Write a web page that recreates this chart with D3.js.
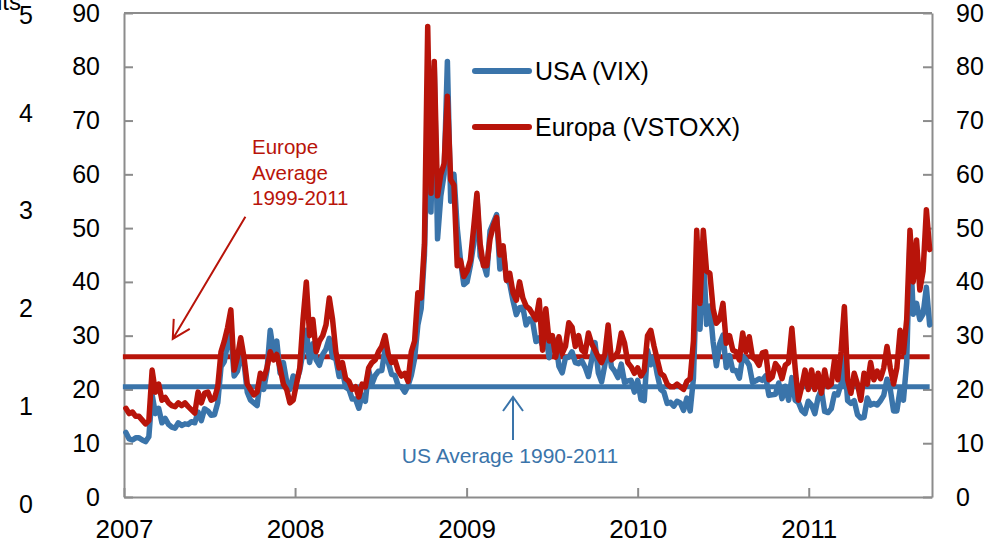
<!DOCTYPE html>
<html>
<meta charset="utf-8">
<style>
body{
	margin:0;
	background:#fff;
}
svg text{
	font-family:"Liberation Sans", Arial, sans-serif;
	fill:#000;
}
.axis path, .axis line{
	stroke:#8c8c8c;
	stroke-width:2;
}
.axis text{
	font-size:25px;
}
.series{
	fill:none;
	stroke-width:5.5;
	stroke-linejoin:round;
	stroke-linecap:round;
}
</style>
<body>
<svg width="996" height="543"></svg>
<script src="https://cdn.jsdelivr.net/npm/d3@7"></script>
<script>

// weekly closes (Fridays), first week ending 5 Jan 2007
var firstWeek = new Date(2007, 0, 5);

var vix = [
  // 2007
  12.0, 10.8, 10.6, 11.0, 11.0, 10.6, 10.3, 11.2, 19.0, 15.5, 16.5, 13.8, 14.6,
  13.5, 13.0, 12.8, 13.8, 13.3, 13.6, 13.5, 14.0, 13.8, 15.8, 14.2, 16.4, 16.0,
  15.2, 15.3, 17.5, 24.2, 25.2, 28.5, 30.5, 22.5, 23.4, 26.0, 25.0, 19.5, 18.0,
  17.5, 17.0, 22.0, 20.0, 23.5, 31.0, 27.0, 29.0, 23.0, 25.0, 21.5, 20.0, 22.5,
  // 2008
  21.5, 23.5, 27.0, 31.0, 25.0, 28.5, 25.5, 24.5, 26.5, 27.5, 29.5, 26.0, 25.7,
  22.4, 23.5, 20.4, 20.0, 18.2, 18.2, 16.5, 19.0, 17.8, 23.6, 21.0, 22.6, 23.4,
  23.5, 27.5, 25.0, 22.8, 22.6, 20.7, 20.5, 19.5, 20.7, 22.6, 25.7, 32.0, 35.0,
  45.0, 70.0, 53.0, 80.0, 48.0, 56.0, 60.0, 81.0, 55.0, 60.0, 50.0, 44.0, 39.5,
  // 2009
  40.0, 43.0, 47.0, 56.0, 44.8, 43.4, 41.3, 49.5, 51.0, 52.5, 42.4, 45.9, 40.4,
  39.7, 36.5, 33.9, 35.2, 35.3, 32.0, 33.1, 32.6, 28.9, 29.6, 28.2, 30.0, 25.9,
  29.5, 29.0, 24.3, 23.1, 25.9, 26.0, 27.0, 25.0, 24.8, 25.3, 24.1, 22.4, 25.6,
  28.7, 23.1, 21.4, 24.6, 28.5, 24.2, 23.4, 22.2, 24.7, 21.3, 21.6, 21.7, 19.5,
  // 2010
  21.7, 18.1, 17.9, 27.3, 24.6, 26.1, 22.7, 20.0, 19.5, 17.4, 17.6, 16.9, 17.8,
  17.5, 16.1, 18.4, 16.0, 22.1, 41.0, 31.2, 45.8, 32.1, 35.5, 28.8, 24.4, 28.5,
  30.1, 24.1, 26.3, 23.5, 23.5, 22.1, 26.2, 25.5, 24.5, 21.3, 21.6, 22.0, 21.7,
  22.5, 18.9, 19.0, 19.1, 21.2, 18.3, 20.6, 18.0, 22.2, 18.0, 17.6, 16.1, 15.5, 17.8,
  // 2011
  17.1, 15.5, 18.5, 20.0, 15.9, 15.7, 16.4, 19.2, 19.0, 21.0, 26.0, 17.9,
  17.4, 17.9, 15.3, 14.7, 14.8, 18.4, 17.1, 17.4, 17.1, 17.9, 18.9, 21.9, 20.0,
  16.0, 16.0, 20.0, 18.0, 25.0, 48.0, 34.0, 36.0, 33.0, 34.0, 39.0, 32.0
];

var vstoxx = [
  // 2007
  16.5, 15.5, 15.8, 15.0, 15.0, 14.3, 13.6, 14.2, 23.6, 19.5, 21.0, 18.0, 18.5,
  17.5, 17.0, 16.8, 17.5, 17.0, 17.5, 16.8, 16.2, 15.6, 19.5, 17.5, 19.3, 19.5,
  18.0, 18.3, 20.5, 27.0, 29.0, 31.5, 34.8, 23.6, 26.0, 29.6, 26.0, 21.0, 20.0,
  19.0, 19.5, 23.0, 22.0, 24.0, 27.0, 25.5, 26.5, 24.0, 21.0, 20.0, 17.5, 18.0,
  // 2008
  21.0, 24.0, 33.0, 40.0, 30.0, 33.0, 27.0, 29.0, 30.0, 32.0, 37.0, 33.0, 27.0,
  24.0, 25.0, 22.0, 21.5, 20.0, 20.5, 18.6, 21.0, 20.5, 24.0, 25.0, 25.5, 27.0,
  28.0, 30.0, 26.5, 25.0, 25.5, 23.5, 22.5, 23.0, 21.5, 27.0, 29.0, 38.0, 37.0,
  47.0, 87.5, 56.5, 81.0, 56.0, 60.0, 62.0, 74.5, 59.0, 58.0, 43.0, 44.0, 41.0,
  // 2009
  42.0, 44.0, 50.0, 56.5, 47.0, 43.0, 43.0, 48.0, 50.4, 52.0, 45.0, 46.7, 40.3,
  41.6, 38.0, 36.6, 40.0, 37.0, 35.5, 35.0, 34.0, 33.0, 36.6, 27.3, 35.0, 29.0,
  30.0, 26.0, 29.8, 26.7, 28.0, 32.4, 31.6, 28.0, 30.0, 27.3, 26.8, 30.5, 28.5,
  27.3, 26.0, 25.0, 26.5, 32.0, 25.5, 26.0, 27.0, 30.5, 28.6, 25.0, 24.2, 23.0,
  // 2010
  24.0, 22.5, 23.5, 30.0, 31.0, 28.0, 25.5, 23.0, 22.5, 21.0, 20.5, 20.5, 21.0,
  20.5, 20.0, 21.5, 22.0, 29.0, 49.6, 36.0, 49.6, 42.0, 41.6, 35.0, 32.3, 33.0,
  36.0, 28.6, 30.0, 27.3, 27.0, 25.5, 30.5, 27.0, 29.8, 26.0, 25.5, 24.5, 26.8,
  27.0, 21.8, 22.3, 24.8, 24.0, 22.0, 24.5, 25.0, 31.4, 24.0, 18.0, 20.5, 23.6, 20.0,
  // 2011
  23.6, 20.0, 23.0, 19.3, 23.6, 20.5, 21.0, 25.5, 21.8, 27.0, 35.4, 21.8,
  19.3, 23.0, 21.0, 18.0, 23.0, 21.0, 25.0, 21.8, 23.4, 22.0, 24.0, 28.0, 24.0,
  21.0, 24.0, 31.0, 26.8, 33.0, 49.6, 40.0, 47.8, 38.5, 42.0, 53.4, 46.0
];

var usAverage = 20.5;      // VIX 1990-2011
var euAverage = 26.1;      // VSTOXX 1999-2011

var yTicks = [0, 10, 20, 30, 40, 50, 60, 70, 80, 90];
var farTicks = [0, 1, 2, 3, 4, 5];
var yearTicks = [2007, 2008, 2009, 2010, 2011];

var blue = "#3a74aa",
    red = "#b8140a";

var svg = d3.select("svg"),
    plotL = 124, plotR = 932, plotT = 13, plotB = 497;

var x = d3.scaleTime()
    .domain([new Date(2007, 0, 1), new Date(2011, 8, 21)])
    .range([plotL, plotR]);

var y = d3.scaleLinear()
    .domain([0, 90])
    .range([plotB, plotT]);

// the cut-off axis on the far left
var yFar = d3.scaleLinear()
    .domain([0, 5])
    .range([504, 15]);

var dates = vix.map(function(d, i) { return d3.timeWeek.offset(firstWeek, i); });
var usData = vix.map(function(v, i) { return {date: dates[i], value: v}; });
var euData = vstoxx.map(function(v, i) { return {date: dates[i], value: v}; });

var line = d3.line()
    .x(function(d) { return x(d.date); })
    .y(function(d) { return y(d.value); });

// frame top
svg.append("line")
    .attr("x1", plotL).attr("x2", plotR)
    .attr("y1", y(90)).attr("y2", y(90))
    .attr("stroke", "#8c8c8c").attr("stroke-width", 2);

svg.append("g").attr("class", "axis")
    .attr("transform", "translate(" + plotL + ",0)")
    .call(d3.axisLeft(y).tickValues(yTicks).tickSizeInner(-9).tickSizeOuter(0).tickPadding(24));

svg.append("g").attr("class", "axis")
    .attr("transform", "translate(" + plotR + ",0)")
    .call(d3.axisRight(y).tickValues(yTicks).tickSizeInner(-9).tickSizeOuter(0).tickPadding(24));

var gx = svg.append("g").attr("class", "axis")
    .attr("transform", "translate(0," + plotB + ")")
    .call(d3.axisBottom(x)
      .tickValues(yearTicks.map(function(yr) { return new Date(yr, 0, 1); }))
      .tickFormat(d3.timeFormat("%Y"))
      .tickSizeInner(-9).tickSizeOuter(0).tickPadding(23));
gx.selectAll("text").style("font-size", "26px");

svg.selectAll(".far")
    .data(farTicks)
  .enter().append("text")
    .attr("class", "far")
    .attr("x", 33)
    .attr("y", function(d) { return yFar(d); })
    .attr("dy", "0.35em")
    .attr("text-anchor", "end")
    .style("font-size", "25px")
    .text(function(d) { return d; });

svg.append("text")
    .attr("x", 21).attr("y", 10)
    .attr("text-anchor", "end")
    .style("font-size", "24px")
    .text("Points");

// long-run averages
svg.append("line")
    .attr("x1", x(dates[0]) - 3).attr("x2", x(dates[dates.length - 1]))
    .attr("y1", y(usAverage)).attr("y2", y(usAverage))
    .attr("stroke", blue).attr("stroke-width", 5);

svg.append("line")
    .attr("x1", x(dates[0]) - 3).attr("x2", x(dates[dates.length - 1]))
    .attr("y1", y(euAverage)).attr("y2", y(euAverage))
    .attr("stroke", red).attr("stroke-width", 5);

svg.append("path")
    .datum(usData)
    .attr("class", "series")
    .attr("stroke", blue)
    .attr("d", line);

svg.append("path")
    .datum(euData)
    .attr("class", "series")
    .attr("stroke", red)
    .attr("d", line);

// legend
var legend = [{name: "USA (VIX)", color: blue}, {name: "Europa (VSTOXX)", color: red}];
var lg = svg.selectAll(".legend")
    .data(legend)
  .enter().append("g")
    .attr("class", "legend")
    .attr("transform", function(d, i) { return "translate(475," + (71 + i * 56) + ")"; });
lg.append("line")
    .attr("x1", 0).attr("x2", 54)
    .attr("stroke", function(d) { return d.color; })
    .attr("stroke-width", 6)
    .attr("stroke-linecap", "round");
lg.append("text")
    .attr("x", 60)
    .attr("dy", "0.35em")
    .style("font-size", "25px")
    .text(function(d) { return d.name; });

// annotations
var euText = svg.append("text")
    .attr("x", 252).attr("y", 154)
    .style("font-size", "20.5px")
    .style("fill", red);
["Europe", "Average", "1999-2011"].forEach(function(t, i) {
  euText.append("tspan").attr("x", 252).attr("dy", i ? 25.5 : 0).text(t);
});

var euTip = [x(new Date(2007, 3, 15)), y(29.4)],
    euTail = [x(new Date(2007, 8, 17)), y(52.1)];
svg.append("path")
    .attr("d", "M" + euTail + "L" + euTip + "M" + [euTip[0] + 1, euTip[1] - 20] + "L" + euTip + "L" + [euTip[0] + 17, euTip[1] - 10])
    .attr("fill", "none")
    .attr("stroke", red)
    .attr("stroke-width", 2);

var usX = x(new Date(2009, 3, 10));
svg.append("path")
    .attr("d", "M" + [usX, y(10.6)] + "L" + [usX, y(18.6)] + "M" + [usX - 10, y(18.6) + 14] + "L" + [usX, y(18.6)] + "L" + [usX + 10, y(18.6) + 14])
    .attr("fill", "none")
    .attr("stroke", blue)
    .attr("stroke-width", 2);

svg.append("text")
    .attr("x", 510).attr("y", 463)
    .attr("text-anchor", "middle")
    .style("font-size", "21px")
    .style("fill", blue)
    .text("US Average 1990-2011");

</script>
</body>
</html>
